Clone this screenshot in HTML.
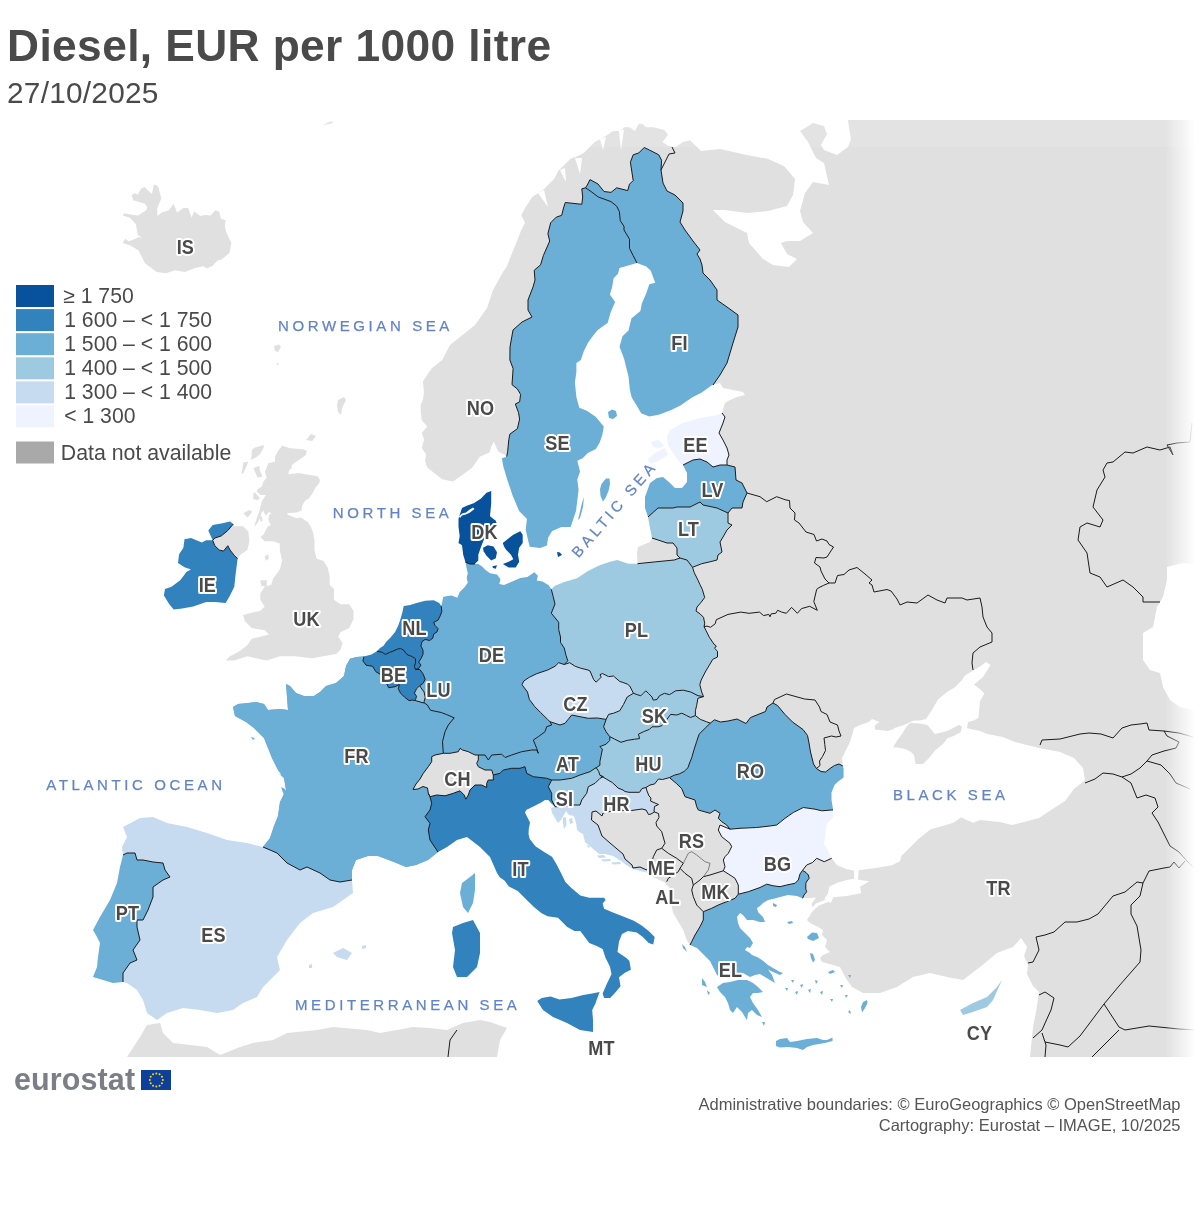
<!DOCTYPE html>
<html><head><meta charset="utf-8"><title>Diesel, EUR per 1000 litre</title>
<style>html,body{margin:0;padding:0;background:#fff;width:1200px;height:1210px;overflow:hidden}svg{display:block;will-change:transform}</style>
</head><body>
<svg width="1200" height="1210" viewBox="0 0 1200 1210">
<defs>
<linearGradient id="fr" x1="0" y1="0" x2="1" y2="0"><stop offset="0" stop-color="#fff" stop-opacity="0"/><stop offset="1" stop-color="#fff" stop-opacity="1"/></linearGradient>
<clipPath id="mc"><rect x="0" y="120" width="1200" height="937"/></clipPath>
</defs>
<rect width="1200" height="1210" fill="#fff"/>
<g clip-path="url(#mc)">
<polygon points="131.6,195.1 134.5,193.3 138,194.5 140.9,188.7 144.4,186.9 152,193.9 153.8,184.6 156.7,185.2 158.4,187.5 161.3,198.6 157.3,207.9 157.3,216.1 162.5,212 168.3,210.8 173.6,203.8 177.1,212.6 183.5,207.9 188.2,207.9 191.7,217.8 194,211.4 200.4,216.1 204.5,214.9 210.4,215.5 215.6,210.3 219.1,211.4 220.9,218.4 225.5,220.2 224.9,226 226.1,231.8 231.4,242.9 229.6,252.8 225.5,256.3 220.9,259.8 217.4,260.4 212.7,265.7 206.9,268.6 203.3,266.3 195.2,268 184.7,272.1 175.3,270.3 166,273.3 156.7,272.1 145,263.3 138.6,250.5 131,245.8 122.8,242.9 125.2,238.8 128.7,241.2 135.7,238.8 138.6,237.1 142.7,237.7 138,235.3 135.7,223.7 129.8,217.8 122.8,215.5 124,213.2 128.7,214.3 138,215.5 146.2,210.3 147.3,207.3 145,203.8 133.3,200.3" fill="#e0e0e0"/><polygon points="282.5,445.8 290,448.3 303.3,449.2 306.7,450.8 305.8,455 300,459.2 291.7,465 291.7,468.3 289.2,470 288.3,474.2 298.3,472.9 317.5,476.3 320,480 319.2,483.3 315,488.3 312.5,493.3 309.2,498.3 305,500.8 302.5,505 301.7,508.3 301.7,510.8 296.7,512.5 286.7,513.3 288.3,515 296.7,518.3 300.8,517.5 307.5,521.7 310.8,526.7 313.3,533.3 314.5,541.3 314.5,550 316.7,558.7 323.2,560.8 327.5,567.3 329.7,576 329.7,584.7 334,589 334,599.8 340.5,604.2 349.2,604.2 353.5,610.7 353.5,619.3 349.2,628 340.5,632.3 338.3,636.7 342.7,643.2 340.5,649.7 336.2,654 323.2,656.2 312.3,658.3 295,656.2 279.8,656.2 266.8,660.5 256,658.3 247.3,656.2 234.3,660.5 225.7,660.5 230,656.2 238.7,651.8 247.3,645.3 251.7,638.8 260.3,636.7 269,634.5 264.7,630.2 251.7,628 245.2,621.5 243,615 251.7,612.8 260.3,610.7 264.7,606.4 260.3,599.8 260.3,593.4 264.7,586.8 271.2,584.7 273.3,578.2 279.8,569.5 282,560.8 279.8,550 279.8,543.5 273.3,541.3 264.7,541.3 260.3,537 263.3,535 267.5,526.7 270.8,525 268.3,520 269.2,514.2 271.7,514.2 269.2,511.7 265.8,515.8 263.3,510.8 261.7,512.5 260,518.3 257.5,523.3 254.2,526.7 256.7,518.3 259.2,511.7 261.7,501.7 265.8,495 260.8,495 256.7,491.7 257.5,489.2 261.7,486.7 263.3,481.7 266.7,477.5 265,471.7 268.3,463.3 271.7,462.5 275,461.7 275,456.7 276.7,453.3 280,448.3" fill="#e0e0e0"/><polygon points="251.7,450 255,447.5 264.2,445 263.3,448.3 260,454.2 255.8,457.5 250.8,460 251.7,455.8" fill="#e0e0e0"/><polygon points="243.3,462.5 248.3,461.7 246.7,465.8 243.3,473.3 241.7,474.2 242.5,468.3" fill="#e0e0e0"/><polygon points="253.3,468.3 259.2,465.8 260,470.8 262.5,476.7 257.5,477.5 255,471.7" fill="#e0e0e0"/><polygon points="253.3,493.3 255,492.5 260,498.3 257.5,500 253.3,499.2" fill="#e0e0e0"/><polygon points="243.3,513.3 249.2,510 252.5,511.7 247.5,517.5" fill="#e0e0e0"/><polygon points="260,517 262,516 262.5,521 260.5,522" fill="#e0e0e0"/><polygon points="264.7,556.5 268,554.3 269,558.7 265.8,560.8" fill="#e0e0e0"/><polygon points="260.3,580.3 266.8,580.3 266.8,586.8 261.4,585.8" fill="#e0e0e0"/><polygon points="306,440 311,434 316,436 312,441" fill="#e0e0e0"/><polygon points="338,400 344,397 346,400 342,408 341,415 338,412 337,405" fill="#e0e0e0"/><polygon points="274,346 279,344.5 281,347 278,352 275,351" fill="#e0e0e0"/><polygon points="276.5,363 278.5,363 278,366" fill="#e0e0e0"/><polygon points="323,125 328,122.5 332,121 333,123 327,124.5" fill="#e0e0e0"/><polygon points="208.3,530.5 212.7,525.1 221.3,523.6 230,521.4 233.3,524 227.8,530.5 221.3,535.9 214.8,538.1 212.7,540.3 214.8,545.7 219.2,550 223.5,551.1 227.8,545.7 230,550 234.3,555.4 237.6,558.7 236.5,567.3 235.4,576 234.3,586.8 230,595.5 225.7,603.1 214.8,602 206.2,602 193.2,606.4 182.3,608.5 173.7,609.6 169.3,604.2 163.9,595.5 165,589 171.5,586.8 180.2,580.3 186.7,571.7 191,569.5 184.5,567.3 178,563 179.1,554.3 183.4,547.8 184.5,539.2 191,538.1 201.8,542.4 206.2,540.3 212.7,540.3" fill="#3182bd"/><polygon points="233.3,524 234.3,526.2 243,526.2 248.4,531.6 249.5,541.3 247.3,550 240.8,554.3 237.6,558.7 234.3,555.4 230,550 227.8,545.7 223.5,551.1 219.2,550 214.8,545.7 212.7,540.3 214.8,538.1 221.3,535.9 227.8,530.5 233.3,524" fill="#e0e0e0"/><polygon points="127,1057 140,1037 147,1025 160,1023 163,1033 173,1043 207,1047 220,1055 240,1047 253,1043 273,1040 287,1033 317,1030 333,1027 367,1030 380,1033 397,1030 413,1027 430,1028 447,1030 463,1023 480,1020 490,1022 507,1028 500,1040 497,1057" fill="#e0e0e0"/><polygon points="506.7,456.7 504.5,454.5 501.3,453.4 498.1,451.3 493.8,441.6 491.6,445.9 489.5,452.4 479.8,456.7 472.3,467.4 463.7,473.9 453,481.4 442.2,479.2 427.2,467.4 425,461 426.1,454.5 421.8,448.1 424,439.5 421.8,433 427.2,426.6 421.8,420.2 420.7,411.6 420.7,405.1 422.9,399.7 424,392.2 422.9,381.5 427.2,375 431.5,368.6 436.9,364.3 442.2,360 450,345 475,325 487,308 493,290 503,272 506.7,266.7 510.3,257.5 514,248.3 517.7,239.2 521.3,230 525,222.7 521.3,215.3 525,208 528.7,202.5 532.3,197 543.3,189.7 550.7,182.3 554.3,178.7 558,171.3 565.3,164 570.8,158.5 576.3,156.7 583.7,153 591,145.7 594.7,142 602,138.3 607.5,134.7 613,131 620.3,131 624,127.3 629.5,127.3 635,131 638.7,123.7 642.3,123.7 646,127.3 653.3,127.3 664.3,130.1 668,134.7 662.5,142 668,145.7 675.3,147.5 682.7,142 690,140.2 701,151 720,149 747,155 768,159 784,166 795,179 793,195 787,206 768,211 747,213 725,210 713,210 725,222 747,233 749,243 763,259 773,265 789,267 797,259 787,254 781,243 787,241 800,241 813,233 803,222 800,211 805,193 813,182 829,185 824,163 816,158 808,142 800,131 813,123 824,126 827,134 821,145 824,150 837,155 848,147 851,139 848,121 848,120 1200,120 1200,1057 1030,1057 1033,1027 1036,1012 1039,992 1033,986 1027,974 1028,965 1024,956 1027,947 1021,938 1013,947 997,953 980,967 963,980 947,977 930,973 913,977 897,987 880,993 863,993 852,987 847,980 843,973 840,967 833,965 822,962 820,958 823,955 830,952 825,947 827,940 822,935 823,930 818,927 810,923 807,920 810,915 813,908 810,900 802.5,898.3 804,895 806.7,891.7 805.8,889.2 805.8,883.3 807,881 809.2,878.3 808.3,875 806,872.5 802.5,870.4 806.7,865 812.5,862.5 816.7,858.3 824.2,861.7 831.7,858.3 842.8,766 839,764 834.5,765.5 830,768.5 825.5,772 821,771.5 816.5,768.5 813.5,764 810.5,752 809,743 807.5,735.5 803,729.5 792.5,722 785,714.5 777.5,705.5 773,703 767,707 765.5,711.5 758,714.5 750.5,717.5 746,723.5 737,719 728,721 720.5,722 714.5,719.8 710.3,723.1 706.6,721.8 700.4,719.4 695.4,715.6 695.4,710.7 696.6,705.7 697.9,698.3 703.5,696.6 701.7,692 699.8,684.7 701.2,680 705.8,671 709.3,665.2 712.8,659.3 717.5,657 717.5,651.2 714.6,648.3 716.3,646 714,644.2 709.3,637.2 705.8,630.2 704.1,626.7 704.7,623.2 703.5,617.3 700,613.8 696,611 697,607 701.2,602.2 704.7,597.5 702.3,589.3 700,584.7 698,580.2 694.3,572.8 692.5,567.3 701.7,563.7 710,561.8 717,560 718,555 722,552 720,542 723,537 727,530 732,525 728,523 728,513 732,508 742,508 743,502 747,493 742,483 736,480 735,467 727,465 727,460 729,455 727,448 723,440 719,433 723,423 725,417 722,413 723,410 725,403 730,400 737,397 745,395 743,392 733,390 723,388 720,383 713,385 720,375 727,363 733,343 738,327 738,315 727,307 717,300 717,290 710,280 703,273 702,265 700,259 697,254 700,250 693,241 685,230 680,222 683,211 683,203 675,195 667,191 663,183 661,170 661.6,160.3 658.8,154.8 649.7,150.2 644.2,147.5 638.7,153 633.2,154.8 630.4,162.2 633.2,180.5 629.5,184.2 627.7,190.6 616.7,187.8 611,192.4 604,191.5 598,184 590,179.6 587.3,185 585.5,187.8 581.8,188.8 582.7,197 581.8,204.3 565.3,202.5 563.5,208 561.7,215.3 556.2,217.2 550.7,222.7 547.9,233.7 549.7,241 543.3,255.7 540.6,264.8 534.2,270.3 535,280 533,287 528,300 528,310 532,317 522,322 513,330 510,347 509.9,360 513.1,368.6 512,384.7 517.4,389 520.6,394.4 519.6,401.9 515.3,404 518.5,412.6 519.6,419.1 517.4,428.7 509.9,434.1 508.8,439.5 507.7,451.3 506.7,456.7" fill="#e0e0e0"/><polygon points="619,131 624,129.5 621,150" fill="#ffffff"/><polygon points="575,158 582,158 580,174" fill="#ffffff"/><polygon points="538,193 544,190 548,207" fill="#ffffff"/><polygon points="600,139 606,137 603,150" fill="#ffffff"/><polygon points="560,170 565,168 566,182" fill="#ffffff"/><polygon points="637.5,563.7 637,553 638,547 650,542 652,538 658,540 667,543 673,543 677,548 677,555 680,558 674.2,560 655.8,561.8 637.5,563.7" fill="#e0e0e0"/><polygon points="646,787.5 650,785 654.5,784 658.5,779 662.5,779.5 669.4,777.6 676.8,783.8 681.8,788.8 685,796.7 695,800 696.7,806.7 698.3,810 710,813.3 715,810 720,813.3 718.3,818.3 721.7,821.7 726.7,825 730,829.2 720,825 718.3,830 721.7,836.7 730,843.3 731.7,846.7 728.3,853.3 725,856.7 723.3,860 725,866.7 723.3,870.8 730,875 735,878.3 738.3,885 738.3,894.2 735,898.3 726.7,901.7 718.3,905 711.7,908.3 703.3,911.7 703.3,920 700,926.7 695,935 691.7,941.7 690,945 686.7,940 683.3,930 678.3,921.7 673.3,913.3 671.7,906.7 671.7,896.7 670,889 668,886 664,882 656,878.5 649,875 645,871.5 646.7,870 640,867 633,868 632,865 625,859 623,854 610,843 602,836 598,825 591.5,820 592,812 596,811 602,816 603,813 612,811 618,810 625,810.5 631.5,810.5 635,810 642,809 646,810 648.5,814.5 651,814 654.5,812 654,811 654.5,806.5 658.5,804.5 655,803 650.5,801 651,798 649,796 647,791 646,787.5" fill="#e0e0e0"/><polygon points="443.3,753.3 450,753.3 458.3,751.7 460,748.3 462.5,750 468.3,751.7 475,755 478.3,755 478.3,760 476.7,763.3 478.3,766.7 485,770 491.7,770 493.3,775 493.3,780 488.3,780 486.7,783.3 486.7,787.5 481.7,785 475,785 470,790 468.3,795 465.8,799.2 464.2,795 460,790.8 453.3,793.3 445,795.8 436.7,795 430,796.7 428.3,793.3 427.5,788 423,786.5 418,789 413,789.5 416,784 420,779 423.3,773.3 428.3,766.7 431.7,761.7 431.7,756.7 435,755 443.3,753.3" fill="#e0e0e0"/><polygon points="842.8,766 842,758 845,752 849.5,743 852.5,734 854,728 860,725 869,722 872,719 879.5,722 875,725 875,729.5 887,731 893,729.5 894.5,728 902,725.7 906,724 914,720.5 920,720.5 926,719 929,714.5 932,710 938,699.5 947,692 954.5,687.5 962,680 965,675.5 972.5,671 980,666.5 986,662 990.5,665 983,677 974,684.5 980,689 984.5,693.5 980,701 978.5,717.5 974,720.5 968,722 967,728 972.5,729.5 980,731 987.5,734 995,735.5 1002.5,737 1015,742 1039,748 1060,752 1074,758 1083,768 1085,780 1074,789 1065,801 1051,810 1039,818 1024,822 1012,825 1000,822 980,820 973.3,822.7 966.7,820 961.3,817.3 953.3,822.7 940,826.7 930.7,829.3 918.7,838.7 910.7,846.7 901.3,856 900,861.3 892,865.3 876,868 860,870 854.7,870.7 846.7,869.3 837.3,865.3 832,858.7 828,850.7 824,844 825.3,834.7 826.7,824 833.3,817.3 833,810 831.5,800 831.5,792.5 834.5,785 837.5,782 843.5,777.5 843.5,768.5" fill="#ffffff"/><polygon points="893,747.5 897.5,740 902,734 906.5,726.5 910,723 920,723.5 927.5,725 935,734 947,731 959,725 962,726.5 960.5,732.5 954.5,735.5 947,738.5 944,743 935,750.5 929,758 923,764 915.5,764 914,755 911,752 905,749 897.5,747.5" fill="#e0e0e0"/><polygon points="1167,567 1183,563 1200,565 1200,712 1193,710 1180,707 1170,700 1163,687 1160,673 1150,670 1143,660 1143,633 1153,627 1157,607 1163,597 1167,580" fill="#ffffff"/><polygon points="854,870 858.7,870 858,880 854,880" fill="#ffffff"/><polygon points="837.3,882.7 846.7,880 854.7,878.7 860,880 869.3,881.3 860,886.7 861.3,893.3 846.7,896 833.3,897.3 830.8,903.3 827.5,900 824.2,899.2 828,893.3 829.3,886.7" fill="#ffffff"/><polygon points="827.5,899 829.5,901.5 818,906 811,913 809,917 807.5,915.5 809,911 816,903.5" fill="#ffffff"/><polygon points="802.5,898.3 808,898.2 815.8,897.5 812.5,902.5 808.3,908.3 806,912 803,910" fill="#ffffff"/><polygon points="585.5,187.8 591,191.5 598.3,197 611,201.6 616.7,206.2 619.4,211.7 620.3,220.8 624,226.3 624,230 629.5,239.2 629.5,248.3 633.2,255.7 637,263 630,264.9 619.5,267.9 618,273.8 613.6,278.3 612.1,287.2 609.9,294.6 615.1,302.1 610.6,312.5 607.6,322.9 603.2,325.9 597.2,330.4 592.7,336.3 588.3,342.3 583.8,351.2 580.8,360.1 576.4,363.1 576.4,372 574.9,382.4 576.4,397.3 579.3,407.7 586.8,410.7 595.7,416.7 601.7,424.1 603.8,426.5 602.4,434.4 599.8,442.3 595.8,449 587.9,452.9 582.6,458.2 577.3,460.8 580,471.4 577.3,479.4 578.6,490 577.3,500.5 576,511.1 573.3,519 570.7,527 561.4,527 552.2,531 548.2,537.6 546.9,545.5 540.3,548.1 529.7,546.8 528.4,541.5 525.7,529.6 527,519 519.1,511.1 512.5,495.2 507.2,479.4 503.2,466.1 501.9,458.2 506.7,456.7 507.7,451.3 508.8,439.5 509.9,434.1 517.4,428.7 519.6,419.1 518.5,412.6 515.3,404 519.6,401.9 520.6,394.4 517.4,389 512,384.7 513.1,368.6 509.9,360 510,347 513,330 522,322 532,317 528,310 528,300 533,287 535,280 534.2,270.3 540.6,264.8 543.3,255.7 549.7,241 547.9,233.7 550.7,222.7 556.2,217.2 561.7,215.3 563.5,208 565.3,202.5 581.8,204.3 582.7,197 581.8,188.8 585.5,187.8" fill="#6baed6"/><polygon points="601.5,484 606,478.5 609.5,478.5 610,484 608.5,491 605.5,498 603,501.5 600.5,496 600,489" fill="#6baed6"/><polygon points="578,520 582,503 584,497 583,507 580,518" fill="#6baed6"/><polygon points="585.5,187.8 587.3,185 590,179.6 598,184 604,191.5 611,192.4 616.7,187.8 627.7,190.6 629.5,184.2 633.2,180.5 630.4,162.2 633.2,154.8 638.7,153 644.2,147.5 649.7,150.2 658.8,154.8 661.6,160.3 661,170 663,183 667,191 675,195 683,203 683,211 680,222 685,230 693,241 700,250 697,254 700,259 702,265 703,273 710,280 717,290 717,300 727,307 738,315 738,327 733,343 727,363 720,375 713,385 712.5,384.7 701.4,392.7 692,397.4 680.8,405.3 671.3,410 658.7,414.8 649.2,416.4 641.2,413.2 636.5,405.3 631.7,397.4 629.9,390 628.5,376.5 624,358.6 619.5,346.7 622.5,336.3 628.5,330.4 631.4,318.5 640.4,311 641.8,303.6 646.3,293.2 649.3,284.2 655.2,282.7 650.8,270.8 646.3,266.4 637,263 633.2,255.7 629.5,248.3 629.5,239.2 624,230 624,226.3 620.3,220.8 619.4,211.7 616.7,206.2 611,201.6 598.3,197 591,191.5 585.5,187.8" fill="#6baed6"/><polygon points="683,465 678,460 673,453 668,445 667,437 670,430 683,423 700,418 717,415 722,413 725,417 723,423 719,433 723,440 727,448 729,455 727,460 727,465 720,465 713,467 707,462 700,459 693,460 683,465" fill="#eff3ff"/><polygon points="651,442 658,440 664,445 660,448 653,447" fill="#eff3ff"/><polygon points="647.6,459.2 655.5,452.8 665,448 668.2,454.4 658.7,460.7 650.7,464" fill="#eff3ff"/><polygon points="608,412 612,409.5 616,411 617,416 613,419 609,418" fill="#6baed6"/><polygon points="648,517 645,508 645,497 650,483 657,478 663,477 670,483 675,488 682,488 687,482 687,473 683,465 693,460 700,459 707,462 713,467 720,465 727,465 735,467 736,480 742,483 747,493 743,502 742,508 732,508 728,513 717,508 703,505 700,502 690,507 677,507 673,508 658,508 648,517" fill="#6baed6"/><polygon points="648,517 658,508 673,508 677,507 690,507 700,502 703,505 717,508 728,513 728,523 732,525 727,530 723,537 720,542 722,552 718,555 717,560 710,561.8 701.7,563.7 692.5,567.3 687,560 680,558 677,555 677,548 673,543 667,543 658,540 652,538 650,528 648,517" fill="#9ecae1"/><polygon points="551.3,589.3 555,585.7 564.2,582 577,578.3 588,571 599,565.5 610,561.8 617.3,560 628.3,563.7 637.5,563.7 655.8,561.8 674.2,560 680,558 687,560 692.5,567.3 694.3,572.8 698,580.2 700,584.7 702.3,589.3 704.7,597.5 701.2,602.2 697,607 696,611 700,613.8 703.5,617.3 704.7,623.2 704.1,626.7 705.8,630.2 709.3,637.2 714,644.2 716.3,646 714.6,648.3 717.5,651.2 717.5,657 712.8,659.3 709.3,665.2 705.8,671 701.2,680 699.8,684.7 701.7,692 703.5,696.6 698,695.7 690.7,692 683.3,690.2 675.6,690.8 671.8,693.3 669.4,694.6 664.4,693.3 659.4,695.8 657,699.5 653.2,700.1 652,697 648.3,693.3 645.8,690.8 643.3,693.3 640.8,695.8 637.1,694.6 633.4,693.3 632.2,690.8 629.7,685.9 627.2,684 622.2,682.2 619.8,681.5 614.8,677.2 613.6,676 608.6,676.6 602.4,673.5 600,674.7 601.2,677.2 596.2,682.2 593.7,679.7 590,671 588,670 580.7,668.2 575.2,666.3 569.7,662.7 564.2,664.5 567.8,660.8 566,655.3 564.2,648 560.5,642.5 560.5,637 558.7,629.7 558.7,622.3 551.3,613.2 555,604 553.2,596.7 551.3,589.3" fill="#9ecae1"/><polygon points="441.3,606.1 443.3,596.7 451.5,595.5 457.3,597.8 459.7,592 464.3,587.4 467.8,582.7 466.7,578 467.8,573.3 466.7,568.7 465.5,562.3 470,564 474.8,564 478.3,564 481.8,566.3 485.3,569.8 490,573.3 497,574.5 500.5,579.2 499.3,583.9 504,585 512.2,581.5 520.3,578 527.4,576.9 534.4,572.2 537.9,575.7 536.7,580.4 542.5,581.5 548.4,585 551.3,589.3 553.2,596.7 555,604 551.3,613.2 558.7,622.3 558.7,629.7 560.5,637 560.5,642.5 564.2,648 566,655.3 567.8,660.8 564.2,664.5 558.7,662.7 555,666.3 547.7,670 536.7,673.7 529.3,677.3 523.8,681 522,684.7 527.5,692 529.3,699.3 534.8,706.7 540.3,712.2 547.7,719.5 550,721.7 551.7,725 546.7,726.7 545,731.7 538.3,736.7 533.3,740 536.7,748.3 538.3,753.3 536.7,750 531.7,750 521.7,751.7 511.7,755 505,757.5 501.7,754.2 491.7,755 488.3,760 485,755 478.3,755 475,755 468.3,751.7 462.5,750 460,748.3 458.3,751.7 450,753.3 443.3,753.3 442.5,741.7 445,731.7 448.3,725 454.2,717.8 446.7,714.6 441.3,712.5 435.9,711.4 430.6,710.3 427.3,705 424.1,702.8 424.1,701.7 425.2,697.4 424.1,692 420.9,687.7 419.8,685.6 423,683.4 425.2,679.2 423,673.8 419.8,669.5 415.5,669.5 418.7,668.4 420.9,665.2 418.7,662 420.9,658.7 423,654.4 423,650.2 420.9,645.9 422,641.6 425.2,639.4 429.5,640.5 432.7,638.3 433.8,634 437,631.9 438.1,628.7 434.9,625.4 433.8,622.2 438.1,620.1 440.2,615.8 441.8,611.5 441.3,606.1" fill="#6baed6"/><polygon points="458.5,518.5 462,508 466.7,505.7 473.7,503.3 480.7,498.7 486.5,492.8 491.2,491.1 491.2,503.3 490,516.2 495.8,520.8 497,524.3 492.3,526.7 490,531.3 485.3,536 483,541.8 480.7,547.7 478.3,554.7 478.3,560.5 474.8,564 470,564 465.5,562.3 463.2,554.7 462,545.3 458.5,543 459.7,536 458.5,526.7" fill="#08519c"/><polygon points="459,516.5 462,513.5 466,512.5 469,510 473,507.5 474.5,509 470,512.5 466,514.5 462,515.5 460,518" fill="#ffffff"/><polygon points="502.8,543 508.7,538.3 513.3,534.8 520.3,531.3 522.7,534.8 522.7,543 519.2,547.7 518,554.7 519.2,561.7 515.7,567.5 508.7,567.5 502.8,564 508.7,561.7 513.3,559.3 511,554.7 506.3,550 504,546.5" fill="#08519c"/><polygon points="483,547.7 487.7,545.3 493.5,546.5 497,552.3 495.8,558.2 491.2,560.5 486.5,555.8 483.6,551.2" fill="#08519c"/><polygon points="492.3,566.3 497,565.2 495.8,568.7 493,568" fill="#08519c"/><polygon points="557,552 560,552.5 562,555 558,557" fill="#08519c"/><polygon points="376.9,651.2 380,648 383.3,645.9 386.5,641.6 390.8,637.3 395.1,631.9 398.3,625.4 400.5,619 402.6,611.5 403.7,606.1 410.2,605 416.6,602.9 425.2,600.7 433.8,600.2 439.2,602.9 441.3,606.1 441.8,611.5 440.2,615.8 438.1,620.1 433.8,622.2 434.9,625.4 438.1,628.7 437,631.9 433.8,634 432.7,638.3 429.5,640.5 425.2,639.4 422,641.6 420.9,645.9 423,650.2 423,654.4 420.9,658.7 418.7,662 420.9,665.2 418.7,668.4 415.5,669.5 414.4,666.3 415.5,663 415.5,658.7 412.3,656.6 408,655 405.9,653.4 403.7,650.2 400.5,648.5 397.3,649.1 393,651.2 389.7,652.3 385.4,654.4 382.2,652.3 376.9,651.2" fill="#3182bd"/><polygon points="364,656.6 371.5,654.4 376.9,651.2 382.2,652.3 385.4,654.4 389.7,652.3 393,651.2 397.3,649.1 400.5,648.5 403.7,650.2 405.9,653.4 408,655 412.3,656.6 415.5,658.7 415.5,663 414.4,666.3 415.5,669.5 419.8,669.5 423,673.8 425.2,679.2 423,683.4 419.8,685.6 416.6,688.8 414.4,693.1 416.6,696.3 415.5,699.6 415.5,700.6 412.3,700.1 409.1,700.6 404.8,697.4 400.5,693.1 398.3,688.8 399.4,684.5 395.1,686.7 388.7,687.7 386.5,683.4 381.1,674.9 375.8,671.6 372.6,666.3 366.1,665.2 362.9,660.9 364,656.6" fill="#3182bd"/><polygon points="419.8,685.6 420.9,687.7 424.1,692 425.2,697.4 424.1,701.7 424.1,702.8 423,702.8 415.5,700.6 415.5,699.6 416.6,696.3 414.4,693.1 416.6,688.8 419.8,685.6" fill="#9ecae1"/><polygon points="364,656.6 362.9,656.6 356.4,657.1 350,658.7 364,656.6 362.9,660.9 366.1,665.2 372.6,666.3 375.8,671.6 381.1,674.9 386.5,683.4 388.7,687.7 395.1,686.7 399.4,684.5 398.3,688.8 400.5,693.1 404.8,697.4 409.1,700.6 412.3,700.1 415.5,700.6 424.1,702.8 423,702.8 415.5,700.6 424.1,702.8 427.3,705 430.6,710.3 435.9,711.4 441.3,712.5 446.7,714.6 454.2,717.8 448.3,725 445,731.7 442.5,741.7 443.3,753.3 435,755 431.7,756.7 431.7,761.7 428.3,766.7 423.3,773.3 420,779 416,784 413,789.5 418,789 423,786.5 427.5,788 428.3,793.3 430,796.7 431.7,803.3 430,810 425,816.7 430,823.3 428.3,830 430,840 438,852 428,860 416,865 406,867 394,862 378,856 368,856 356,860 352,870 352,880 340,882 330,880 320,873 307,867 300,870 287,863 277,853 263,847 270,838 274,826 278,816 280,802 286,790 284,778 278,770 272,758 268,748 264,738 254,728 246,722 235,716 233,707 238,704 248,703 256,702 264,704 268,710 280,709 288,710 287,697 286,684 290,686 296,693 304,696 314,696 320,692 326,686 336,683 344,676 346,666 350,658.7" fill="#6baed6"/><polygon points="281,787 285,789 289,797 285,798" fill="#6baed6"/><polygon points="279,774 285,776 284,778" fill="#6baed6"/><polygon points="251,737 255,738 253,740" fill="#6baed6"/><polygon points="364,656.6 362.9,656.6 356.4,657.1 350,658.7 364,656.6 362.9,660.9 366.1,665.2 372.6,666.3 375.8,671.6 381.1,674.9 386.5,683.4 388.7,687.7 395.1,686.7 399.4,684.5 398.3,688.8 400.5,693.1 404.8,697.4 409.1,700.6 412.3,700.1 415.5,700.6 424.1,702.8 423,702.8 415.5,700.6 424.1,702.8 427.3,705 430.6,710.3 435.9,711.4 441.3,712.5 446.7,714.6 454.2,717.8 448.3,725 445,731.7 442.5,741.7 443.3,753.3 435,755 431.7,756.7 431.7,761.7 428.3,766.7 423.3,773.3 420,779 416,784 413,789.5 418,789 423,786.5 427.5,788 428.3,793.3 430,796.7 431.7,803.3 430,810 425,816.7 430,823.3 428.3,830 430,840 438,852 428,860 416,865 406,867 394,862 378,856 368,856 356,860 352,870 352,880 340,882 330,880 320,873 307,867 300,870 287,863 277,853 263,847 270,838 274,826 278,816 280,802 286,790 284,778 278,770 272,758 268,748 264,738 254,728 246,722 235,716 233,707 238,704 248,703 256,702 264,704 268,710 280,709 288,710 287,697 286,684 290,686 296,693 304,696 314,696 320,692 326,686 336,683 344,676 346,666 350,658.7" fill="#6baed6"/><polygon points="550,721.7 560,725 565,723.3 571.7,715 580,716.7 588.3,718.3 597.4,718 606.1,719.4 603.6,726.8 606.1,731.8 609.8,736.7 609.8,740.4 606.1,744.2 599.9,746.6 602.4,749.1 601.2,755.3 599.9,761.5 599.9,765.3 596.2,767.7 595,768.3 590,771.7 580,775 571.7,778.3 560,780 551.7,780 546.7,778.3 533.3,776.7 526.7,773.3 525,766.7 520,768.3 511.7,768.3 503.3,770 500,773.3 493.3,775 493.3,780 493.3,775 491.7,770 485,770 478.3,766.7 476.7,763.3 478.3,760 478.3,755 485,755 488.3,760 491.7,755 501.7,754.2 505,757.5 511.7,755 521.7,751.7 531.7,750 536.7,750 538.3,753.3 536.7,748.3 533.3,740 538.3,736.7 545,731.7 546.7,726.7 551.7,725 550,721.7" fill="#6baed6"/><polygon points="564.2,664.5 569.7,662.7 575.2,666.3 580.7,668.2 588,670 590,671 593.7,679.7 596.2,682.2 601.2,677.2 600,674.7 602.4,673.5 608.6,676.6 613.6,676 614.8,677.2 619.8,681.5 622.2,682.2 627.2,684 629.7,685.9 632.2,690.8 633.4,693.3 627.2,697 623.5,704.5 619.8,710.7 613.6,713.2 608.6,714.4 606.1,719.4 597.4,718 588.3,718.3 580,716.7 571.7,715 565,723.3 560,725 550,721.7 547.7,719.5 540.3,712.2 534.8,706.7 529.3,699.3 527.5,692 522,684.7 523.8,681 529.3,677.3 536.7,673.7 547.7,670 555,666.3 558.7,662.7 564.2,664.5" fill="#c6dbef"/><polygon points="633.4,693.3 637.1,694.6 640.8,695.8 643.3,693.3 645.8,690.8 648.3,693.3 652,697 653.2,700.1 657,699.5 659.4,695.8 664.4,693.3 669.4,694.6 671.8,693.3 675.6,690.8 683.3,690.2 690.7,692 698,695.7 703.5,696.6 697.9,698.3 696.6,705.7 695.4,710.7 695.4,715.6 690.4,717.5 686.7,715.6 681.8,713.2 676.8,715 670.6,714.4 666.9,719.4 661.9,725.6 658.2,726.8 652,726.8 649.5,729.3 643.3,731.8 638.4,734.2 639.6,738.6 634.6,739.2 627.2,740.4 621,742.3 614.8,739.2 609.8,736.7 606.1,731.8 603.6,726.8 606.1,719.4 608.6,714.4 613.6,713.2 619.8,710.7 623.5,704.5 627.2,697 633.4,693.3" fill="#9ecae1"/><polygon points="609.8,736.7 614.8,739.2 621,742.3 627.2,740.4 634.6,739.2 639.6,738.6 638.4,734.2 643.3,731.8 649.5,729.3 652,726.8 658.2,726.8 661.9,725.6 666.9,719.4 670.6,714.4 676.8,715 681.8,713.2 686.7,715.6 690.4,717.5 695.4,715.6 700.4,719.4 706.6,721.8 710.3,723.1 705.3,728 699.1,734.2 696.6,741.7 694.2,749.1 691.7,757.8 689.2,764 688,767.7 684.2,771.4 679.3,773.9 674.3,775.2 669.4,777.6 662.5,779.5 658.5,779 654.5,784 650,785 646,787.5 642,788.5 639.5,792.3 629,792.3 625,791.5 623,790 618,788 615,785 612.3,782.6 606.1,778.9 599.9,775.2 598.7,771.4 596.2,767.7 599.9,765.3 599.9,761.5 601.2,755.3 602.4,749.1 599.9,746.6 606.1,744.2 609.8,740.4 609.8,736.7" fill="#9ecae1"/><polygon points="551.7,780 560,780 571.7,778.3 580,775 590,771.7 595,768.3 596.2,767.7 598.7,771.4 599.9,775.2 603.3,776.7 600,778.3 595,783.3 588.3,786.7 586.7,793.3 581.7,800 580,805 571.7,805 563.3,806.7 555,806.7 551.7,800 551.7,793.3 548.3,786.7 551.7,780" fill="#9ecae1"/><polygon points="599.9,775.2 606.1,778.9 612.3,782.6 615,785 618,788 623,790 625,791.5 629,792.3 639.5,792.3 642,788.5 646,787.5 647,791 649,796 651,798 650.5,801 655,803 658.5,804.5 654.5,806.5 654,811 654.5,812 651,814 648.5,814.5 646,810 642,809 635,810 631.5,810.5 625,810.5 618,810 612,811 603,813 602,816 596,811 592,812 591.5,820 598,825 602,836 610,843 623,854 625,859 632,865 633,868 640,867 646.7,870 645,872 640,871 633,869 627,865.5 621,861 613,856 605,854 599,854 591,847 585,842 583,834 577,830 576,823 574,816 569,815 566,811 561,820 558,823 552,813 551,808 555,806.7 563.3,806.7 571.7,805 580,805 581.7,800 586.7,793.3 588.3,786.7 595,783.3 600,778.3 603.3,776.7 599.9,775.2" fill="#c6dbef"/><polygon points="563,818 566,817 566.5,825 564,829 563,824" fill="#c6dbef"/><polygon points="569,819 572,818 573,823 570,824" fill="#c6dbef"/><polygon points="577,827 580,828 582,833 579,832" fill="#c6dbef"/><polygon points="597,855.5 604,855 606,857.5 599,858" fill="#c6dbef"/><polygon points="601,859.5 610,859 611,861 603,861.5" fill="#c6dbef"/><polygon points="611,862.5 620,862 621,864 613,864.5" fill="#c6dbef"/><polygon points="586,845 590,846 589,848" fill="#c6dbef"/><polygon points="710.3,723.1 714.5,719.8 720.5,722 728,721 737,719 746,723.5 750.5,717.5 758,714.5 765.5,711.5 767,707 773,703 777.5,705.5 785,714.5 792.5,722 803,729.5 807.5,735.5 809,743 810.5,752 813.5,764 816.5,768.5 821,771.5 825.5,772 830,768.5 834.5,765.5 839,764 842.8,766 843.5,768.5 843.5,777.5 837.5,782 834.5,785 831.5,792.5 831.5,800 833,809 833,810 831.7,810 821.7,810.8 815,809.2 803.3,807.5 793.3,812.5 785,818.3 776.7,825 770,826 756.7,827.5 740,828.3 730,829.2 726.7,825 721.7,821.7 718.3,818.3 720,813.3 715,810 710,813.3 698.3,810 696.7,806.7 695,800 685,796.7 681.8,788.8 676.8,783.8 669.4,777.6 674.3,775.2 679.3,773.9 684.2,771.4 688,767.7 689.2,764 691.7,757.8 694.2,749.1 696.6,741.7 699.1,734.2 705.3,728 710.3,723.1" fill="#6baed6"/><polygon points="730,829.2 740,828.3 756.7,827.5 770,826 776.7,825 785,818.3 793.3,812.5 803.3,807.5 815,809.2 821.7,810.8 831.7,810 833,810 833.3,817.3 826.7,824 825.3,834.7 824,844 828,850.7 831.7,858.3 824.2,861.7 816.7,858.3 812.5,862.5 806.7,865 802.5,870.4 800,874 798.3,880 795,883.3 786.7,885 780,886.7 773.3,885.8 766.7,884.2 760,887.5 748.3,891.7 738.3,894.2 738.3,885 735,878.3 730,875 723.3,870.8 725,866.7 723.3,860 725,856.7 728.3,853.3 731.7,846.7 730,843.3 721.7,836.7 718.3,830 720,825 730,829.2" fill="#eff3ff"/><polygon points="738.3,894.2 748.3,891.7 760,887.5 766.7,884.2 773.3,885.8 780,886.7 786.7,885 795,883.3 798.3,880 800,874 802.5,870.4 806,872.5 808.3,875 809.2,878.3 807,881 805.8,883.3 805.8,889.2 806.7,891.7 804,895 802.5,898.3 797,896 788,895 780,897 773,899 768,900 763,903 760,906 757,908 758,912 763,917 765,922 760,922 753,920 747,920 743,915 740,913 737,917 738,923 740,928 745,933 750,938 753,943 750,948 747,947 745,950 750,953 755,958 762,963 767,968 772,975 775,983 770,980 765,977 760,974 755,975 750,977 743,973 737,973 730,977 720,977 717,975 713,967 710,961 707,958 702,953 697,948 690,945 691.7,941.7 695,935 700,926.7 703.3,920 703.3,911.7 711.7,908.3 718.3,905 726.7,901.7 735,898.3 738.3,894.2" fill="#6baed6"/><polygon points="717,987 723,983 730,982 738,980 747,980 753,983 758,987 763,992 758,993 753,993 750,997 753,1003 758,1010 762,1017 757,1015 752,1010 748,1013 747,1020 745,1017 742,1012 737,1007 733,1013 730,1010 728,1003 725,997 720,992" fill="#6baed6"/><polygon points="752,955 757,957 762,960 768,965 773,968 780,972 783,973 780,975 773,972 767,969 758,964 753,960 750,957" fill="#6baed6"/><polygon points="807,937 812,932.5 817,933 819,938 813,941 808,939" fill="#6baed6"/><polygon points="810,953 813,954 815,960 813,962.5 811,958" fill="#6baed6"/><polygon points="828,972 833,970 835,972 830,974" fill="#6baed6"/><polygon points="861,1007 863,1002 867,1000 867.5,1003 865,1008 862,1012.5" fill="#6baed6"/><polygon points="773,903 777,905 776,907 773,906" fill="#6baed6"/><polygon points="787,922 792,921 793,923 789,924" fill="#6baed6"/><polygon points="682,944 685,947 687,952 683,948" fill="#6baed6"/><polygon points="702,978 705,982 707,987 702,985" fill="#6baed6"/><polygon points="707,990 710,993 708,995" fill="#6baed6"/><polygon points="791,980 794,980 793,983" fill="#6baed6"/><polygon points="800,985 803,984 802,988" fill="#6baed6"/><polygon points="808,990 811,989 810,993" fill="#6baed6"/><polygon points="795,992 798,991 797,995" fill="#6baed6"/><polygon points="815,980 818,981 816,984" fill="#6baed6"/><polygon points="820,992 823,991 822,995" fill="#6baed6"/><polygon points="785,988 788,988 787,991" fill="#6baed6"/><polygon points="840,985 843,985 842,988" fill="#6baed6"/><polygon points="845,995 848,995 846,998" fill="#6baed6"/><polygon points="830,999 833,999 832,1002" fill="#6baed6"/><polygon points="848,975 851,975 850,978" fill="#6baed6"/><polygon points="762,1022 765,1022 764,1026" fill="#6baed6"/><polygon points="848,1012 850,1010 851,1014" fill="#6baed6"/><polygon points="776,1041 780,1039 787,1038 790,1042 797,1041 807,1039 817,1038 823,1040 827,1040 832.5,1037.5 832.5,1041 825,1043 813,1045 807,1047 803,1050 797,1048 788,1047 780,1047.5 776,1046" fill="#6baed6"/><polygon points="428.3,793.3 430,796.7 436.7,795 445,795.8 453.3,793.3 460,790.8 464.2,795 465.8,799.2 468.3,795 470,790 475,785 481.7,785 486.7,787.5 486.7,783.3 488.3,780 493.3,780 493.3,775 500,773.3 503.3,770 511.7,768.3 520,768.3 525,766.7 526.7,773.3 533.3,776.7 546.7,778.3 551.7,780 548.3,786.7 551.7,793.3 551.7,800 555,806.7 551.2,803.3 548.3,800 545,800 541.2,802.5 533.8,806.2 526.2,810 525,812.5 527.5,817.5 530,822.5 528.8,828.8 528.5,834 529.7,838.9 535.7,846.4 544.6,852.3 552,856.8 556.5,864.2 561,873.1 565.4,882 571.4,888 580.3,895.4 589.2,897.7 604.1,897.7 605.6,899.9 602.6,903.6 604.1,908.8 613,912.5 626.4,917.7 633.8,920.7 641.3,925.2 648.7,931.1 654.7,937.1 653.2,944.5 648.7,943 642.8,937.1 636.8,932.6 627.9,931.1 622,934.1 619,941.5 617.5,952 626.4,957.9 629.4,960.9 630.9,969.8 624.9,972.8 619,977.2 620.5,986.2 614.5,993.6 610,998.1 604.1,998.1 602.6,993.6 607.1,983.2 611.5,974.3 610,966.8 605.6,957.9 602.6,949 596.7,946 589.2,943 584.8,937.1 580.3,931.1 574.4,931.1 566.9,926.7 562.5,922.2 558,917.7 547.6,916.3 541.6,913.3 534.2,907.3 528.3,901.4 522.3,895.4 517.8,891 508.9,886.5 504.5,880.6 500,877.6 497,873 490,857 480,847 467,837 457,840 447,847 438,852 430,840 428.3,830 430,823.3 425,816.7 430,810 431.7,803.3 430,796.7 428.3,793.3" fill="#3182bd"/><polygon points="537.2,1001 541.6,998.1 550.6,996.6 559.5,999.5 571.4,998.1 583.3,995.1 592.2,993.6 599.6,992.1 595.2,1004 592.2,1010 593,1020 593,1032 580,1030 567,1023 553,1017 543,1010" fill="#3182bd"/><polygon points="453,927 463,923 473,920 480,933 480,953 477,967 467,977 457,977 453,967 455,950 452,933" fill="#3182bd"/><polygon points="470,877 475,873 475,890 473,903 468,913 463,907 460,893 462,883" fill="#6baed6"/><polygon points="594,1053 597,1052 598,1055 595,1056" fill="#3182bd"/><polygon points="123,827 140,818 153,817 167,823 187,827 207,833 227,840 247,843 263,847 277,853 287,863 300,870 307,867 320,873 330,880 340,882 352,880 353,893 333,907 313,913 300,923 287,940 277,957 280,970 273,977 263,987 257,997 243,1003 233,1010 217,1013 200,1010 183,1008 167,1013 157,1020 147,1013 143,1000 137,990 127,983 123,982 123,973 130,963 137,960 133,950 140,940 137,927 137,920 143,920 148,910 153,897 153,887 163,880 170,877 165,870 163,863 153,862 143,860 137,860 135,853 127,853 123,855 122,847 127,837" fill="#c6dbef"/><polygon points="123,855 127,853 135,853 137,860 143,860 153,862 163,863 165,870 170,877 163,880 153,887 153,897 148,910 143,920 137,920 137,927 140,940 133,950 137,960 130,963 123,973 123,982 113,983 103,980 93,977 97,967 98,957 100,943 97,937 93,930 100,917 110,900 117,883 120,867" fill="#6baed6"/><polygon points="333,953 343,948 352,953 347,960 337,957" fill="#c6dbef"/><polygon points="362,946 366,945 366,948 362,949" fill="#c6dbef"/><polygon points="309,965 312,964 312,968 309,968" fill="#c6dbef"/><polygon points="960,1010 973,1003 987,997 997,987 1002,980 993,1000 987,1007 973,1012 963,1015" fill="#9ecae1"/>
<g fill="none" stroke="#1a1a1a" stroke-width="1" stroke-linejoin="round"><polyline points="585.5,187.8 581.8,188.8 582.7,197 581.8,204.3 565.3,202.5 563.5,208 561.7,215.3 556.2,217.2 550.7,222.7 547.9,233.7 549.7,241 543.3,255.7 540.6,264.8 534.2,270.3 535,280 533,287 528,300 528,310 532,317 522,322 513,330 510,347 509.9,360 513.1,368.6 512,384.7 517.4,389 520.6,394.4 519.6,401.9 515.3,404 518.5,412.6 519.6,419.1 517.4,428.7 509.9,434.1 508.8,439.5 507.7,451.3 506.7,456.7"/><polyline points="585.5,187.8 591,191.5 598.3,197 611,201.6 616.7,206.2 619.4,211.7 620.3,220.8 624,226.3 624,230 629.5,239.2 629.5,248.3 633.2,255.7 637,263"/><polyline points="585.5,187.8 587.3,185 590,179.6 598,184 604,191.5 611,192.4 616.7,187.8 627.7,190.6 629.5,184.2 633.2,180.5 630.4,162.2 633.2,154.8 638.7,153 644.2,147.5 649.7,150.2 658.8,154.8 661.6,160.3 661,170"/><polyline points="661,170 663,166 667,158 669,154 675,153 672,147"/><polyline points="661,170 663,183 667,191 675,195 683,203 683,211 680,222 685,230 693,241 700,250 697,254 700,259 702,265 703,273 710,280 717,290 717,300 727,307 738,315 738,327 733,343 727,363 720,375 713,385"/><polyline points="722,413 725,417 723,423 719,433 723,440 727,448 729,455 727,460 727,465"/><polyline points="683,465 693,460 700,459 707,462 713,467 720,465 727,465"/><polyline points="727,465 735,467 736,480 742,483 747,493"/><polyline points="747,493 743,502 742,508 732,508 728,513"/><polyline points="648,517 658,508 673,508 677,507 690,507 700,502 703,505 717,508 728,513"/><polyline points="728,513 728,523 732,525 727,530 723,537 720,542 722,552 718,555 717,560 710,561.8 701.7,563.7 692.5,567.3"/><polyline points="652,538 658,540 667,543 673,543 677,548 677,555 680,558"/><polyline points="680,558 687,560 692.5,567.3"/><polyline points="680,558 674.2,560 655.8,561.8 637.5,563.7"/><polyline points="692.5,567.3 694.3,572.8 698,580.2 700,584.7 702.3,589.3 704.7,597.5 701.2,602.2 697,607 696,611 700,613.8 703.5,617.3 704.7,623.2 704.1,626.7 705.8,630.2 709.3,637.2 714,644.2 716.3,646 714.6,648.3 717.5,651.2 717.5,657 712.8,659.3 709.3,665.2 705.8,671 701.2,680 699.8,684.7 701.7,692 703.5,696.6"/><polyline points="703.5,696.6 698,695.7 690.7,692 683.3,690.2 675.6,690.8 671.8,693.3 669.4,694.6 664.4,693.3 659.4,695.8 657,699.5 653.2,700.1 652,697 648.3,693.3 645.8,690.8 643.3,693.3 640.8,695.8 637.1,694.6 633.4,693.3"/><polyline points="633.4,693.3 632.2,690.8 629.7,685.9 627.2,684 622.2,682.2 619.8,681.5 614.8,677.2 613.6,676 608.6,676.6 602.4,673.5 600,674.7 601.2,677.2 596.2,682.2 593.7,679.7 590,671 588,670 580.7,668.2 575.2,666.3 569.7,662.7 564.2,664.5"/><polyline points="551.3,589.3 553.2,596.7 555,604 551.3,613.2 558.7,622.3 558.7,629.7 560.5,637 560.5,642.5 564.2,648 566,655.3 567.8,660.8 564.2,664.5"/><polyline points="564.2,664.5 558.7,662.7 555,666.3 547.7,670 536.7,673.7 529.3,677.3 523.8,681 522,684.7 527.5,692 529.3,699.3 534.8,706.7 540.3,712.2 547.7,719.5 550,721.7"/><polyline points="550,721.7 560,725 565,723.3 571.7,715 580,716.7 588.3,718.3 597.4,718 606.1,719.4"/><polyline points="633.4,693.3 627.2,697 623.5,704.5 619.8,710.7 613.6,713.2 608.6,714.4 606.1,719.4"/><polyline points="703.5,696.6 697.9,698.3 696.6,705.7 695.4,710.7 695.4,715.6"/><polyline points="609.8,736.7 614.8,739.2 621,742.3 627.2,740.4 634.6,739.2 639.6,738.6 638.4,734.2 643.3,731.8 649.5,729.3 652,726.8 658.2,726.8 661.9,725.6 666.9,719.4 670.6,714.4 676.8,715 681.8,713.2 686.7,715.6 690.4,717.5 695.4,715.6"/><polyline points="695.4,715.6 700.4,719.4 706.6,721.8 710.3,723.1"/><polyline points="710.3,723.1 714.5,719.8 720.5,722 728,721 737,719 746,723.5 750.5,717.5 758,714.5 765.5,711.5 767,707 773,703"/><polyline points="773,703 777.5,705.5 785,714.5 792.5,722 803,729.5 807.5,735.5 809,743 810.5,752 813.5,764 816.5,768.5"/><polyline points="816.5,768.5 821,771.5 825.5,772 830,768.5 834.5,765.5 839,764 842.8,766"/><polyline points="773,703 774.5,699.5 786.5,694 804.5,699 815,700 819.5,707 821,711.5 827,714.5 830,722 837.5,725 839,731 841,736 836,737 831.5,736 824,738 824.8,744.5 825.5,750.5 822.5,756.5 819.5,761 820,765.5 816.5,768.5"/><polyline points="710.3,723.1 705.3,728 699.1,734.2 696.6,741.7 694.2,749.1 691.7,757.8 689.2,764 688,767.7 684.2,771.4 679.3,773.9 674.3,775.2 669.4,777.6"/><polyline points="669.4,777.6 662.5,779.5 658.5,779 654.5,784 650,785 646,787.5"/><polyline points="646,787.5 642,788.5 639.5,792.3 629,792.3 625,791.5 623,790 618,788 615,785 612.3,782.6 606.1,778.9 599.9,775.2"/><polyline points="606.1,719.4 603.6,726.8 606.1,731.8 609.8,736.7"/><polyline points="609.8,736.7 609.8,740.4 606.1,744.2 599.9,746.6 602.4,749.1 601.2,755.3 599.9,761.5 599.9,765.3 596.2,767.7"/><polyline points="596.2,767.7 598.7,771.4 599.9,775.2"/><polyline points="596.2,767.7 595,768.3 590,771.7 580,775 571.7,778.3 560,780 551.7,780"/><polyline points="550,721.7 551.7,725 546.7,726.7 545,731.7 538.3,736.7 533.3,740 536.7,748.3 538.3,753.3 536.7,750 531.7,750 521.7,751.7 511.7,755 505,757.5 501.7,754.2 491.7,755 488.3,760 485,755 478.3,755"/><polyline points="478.3,755 478.3,760 476.7,763.3 478.3,766.7 485,770 491.7,770 493.3,775 493.3,780"/><polyline points="493.3,775 500,773.3 503.3,770 511.7,768.3 520,768.3 525,766.7 526.7,773.3 533.3,776.7 546.7,778.3 551.7,780"/><polyline points="551.7,780 548.3,786.7 551.7,793.3 551.7,800 555,806.7"/><polyline points="599.9,775.2 603.3,776.7 600,778.3 595,783.3 588.3,786.7 586.7,793.3 581.7,800 580,805 571.7,805 563.3,806.7 555,806.7"/><polyline points="443.3,753.3 450,753.3 458.3,751.7 460,748.3 462.5,750 468.3,751.7 475,755 478.3,755"/><polyline points="493.3,780 488.3,780 486.7,783.3 486.7,787.5 481.7,785 475,785 470,790 468.3,795 465.8,799.2 464.2,795 460,790.8 453.3,793.3 445,795.8 436.7,795 430,796.7 428.3,793.3"/><polyline points="428.3,793.3 427.5,788 423,786.5 418,789 413,789.5 416,784 420,779 423.3,773.3 428.3,766.7 431.7,761.7 431.7,756.7 435,755 443.3,753.3"/><polyline points="428.3,793.3 430,796.7 431.7,803.3 430,810 425,816.7 430,823.3 428.3,830 430,840 438,852"/><polyline points="424.1,702.8 427.3,705 430.6,710.3 435.9,711.4 441.3,712.5 446.7,714.6 454.2,717.8 448.3,725 445,731.7 442.5,741.7 443.3,753.3"/><polyline points="415.5,700.6 423,702.8 424.1,702.8"/><polyline points="419.8,685.6 420.9,687.7 424.1,692 425.2,697.4 424.1,701.7 424.1,702.8"/><polyline points="419.8,685.6 416.6,688.8 414.4,693.1 416.6,696.3 415.5,699.6 415.5,700.6"/><polyline points="364,656.6 362.9,660.9 366.1,665.2 372.6,666.3 375.8,671.6 381.1,674.9 386.5,683.4 388.7,687.7 395.1,686.7 399.4,684.5 398.3,688.8 400.5,693.1 404.8,697.4 409.1,700.6 412.3,700.1 415.5,700.6"/><polyline points="415.5,669.5 419.8,669.5 423,673.8 425.2,679.2 423,683.4 419.8,685.6"/><polyline points="376.9,651.2 382.2,652.3 385.4,654.4 389.7,652.3 393,651.2 397.3,649.1 400.5,648.5 403.7,650.2 405.9,653.4 408,655 412.3,656.6 415.5,658.7 415.5,663 414.4,666.3 415.5,669.5"/><polyline points="441.3,606.1 441.8,611.5 440.2,615.8 438.1,620.1 433.8,622.2 434.9,625.4 438.1,628.7 437,631.9 433.8,634 432.7,638.3 429.5,640.5 425.2,639.4 422,641.6 420.9,645.9 423,650.2 423,654.4 420.9,658.7 418.7,662 420.9,665.2 418.7,668.4 415.5,669.5"/><polyline points="465.5,562.3 470,564 474.8,564"/><polyline points="263,847 277,853 287,863 300,870 307,867 320,873 330,880 340,882 352,880"/><polyline points="123,855 127,853 135,853 137,860 143,860 153,862 163,863 165,870 170,877 163,880 153,887 153,897 148,910 143,920 137,920 137,927 140,940 133,950 137,960 130,963 123,973 123,982"/><polyline points="233.3,524 227.8,530.5 221.3,535.9 214.8,538.1 212.7,540.3 214.8,545.7 219.2,550 223.5,551.1 227.8,545.7 230,550 234.3,555.4 237.6,558.7"/><polyline points="646,787.5 647,791 649,796 651,798 650.5,801 655,803 658.5,804.5 654.5,806.5 654,811 654.5,812"/><polyline points="654.5,812 651,814 648.5,814.5 646,810 642,809 635,810 631.5,810.5 625,810.5 618,810 612,811 603,813 602,816 596,811 592,812 591.5,820 598,825 602,836 610,843 623,854 625,859 632,865 633,868 640,867 646.7,870"/><polyline points="669.4,777.6 676.8,783.8 681.8,788.8 685,796.7 695,800 696.7,806.7 698.3,810 710,813.3 715,810 720,813.3 718.3,818.3 721.7,821.7 726.7,825 730,829.2"/><polyline points="730,829.2 740,828.3 756.7,827.5 770,826 776.7,825 785,818.3 793.3,812.5 803.3,807.5 815,809.2 821.7,810.8 831.7,810 833,810"/><polyline points="730,829.2 720,825 718.3,830 721.7,836.7 730,843.3 731.7,846.7 728.3,853.3 725,856.7 723.3,860 725,866.7 723.3,870.8"/><polyline points="723.3,870.8 730,875 735,878.3 738.3,885 738.3,894.2"/><polyline points="738.3,894.2 748.3,891.7 760,887.5 766.7,884.2 773.3,885.8 780,886.7 786.7,885 795,883.3 798.3,880 800,874 802.5,870.4"/><polyline points="802.5,870.4 806.7,865 812.5,862.5 816.7,858.3 824.2,861.7 831.7,858.3"/><polyline points="802.5,870.4 806,872.5 808.3,875 809.2,878.3 807,881 805.8,883.3 805.8,889.2 806.7,891.7 804,895 802.5,898.3"/><polyline points="738.3,894.2 735,898.3 726.7,901.7 718.3,905 711.7,908.3 703.3,911.7"/><polyline points="703.3,911.7 703.3,920 700,926.7 695,935 691.7,941.7 690,945"/></g>
<g fill="none" stroke="#1a1a1a" stroke-width="1" stroke-linejoin="round"><polyline points="654.5,812 658.5,813.5 659,817.5 656,822.5 656.7,826 661.7,831.7 665,843.3 661.7,848.3"/><polyline points="661.7,848.3 656.7,850 653.3,856.7 651.7,863.3 646.7,870"/><polyline points="661.7,848.3 668.3,853.3 676.7,858.3 683.3,863.3"/><polyline points="683.3,863.3 680,868.3 678.3,871.7 673.3,875 668.3,878.3 666.7,881.7"/><polyline points="723.3,870.8 710,875 703.3,876.7 700,880 693.3,885"/><polyline points="680,868.3 685,873.3 691.7,878.3 693.3,885 691.7,890 693.3,896.7 696.7,905 703.3,911.7"/><polyline points="747,493 760,496.7 766.7,501.7 776.7,496.7 786,500 789.5,500.5 790,508 795,513 794.5,520 799,523 806,532 814,534.5 816.5,541 822,539 827,541 829,544.5 833.5,547 827,557 824,558 816,557.5 814.5,563 820,567 821,571 825,579 829,583"/><polyline points="829,583 835,583 837.5,575.5 844,574.5 849,570 857,567.5 865,574 872,580 869,583 872,585 874,592 887,589.5 891,591 897,599 900,605 907,602 917,603 928,595 937,600 945,603 947,598 962,598 967,600 980,598 982,607 983,617 987,627 992,633 992,642 980,647 973,653 972,663 973,670"/><polyline points="704.1,626.7 707,626.1 710.5,627.3 715.2,623.8 716.3,619.7 728,614.4 740.8,612.1 749,613.3 759.5,612.1 763.6,615.6 768.8,614.4 770,616.8 771.2,613.8 775.8,613.3 777.6,610.3 781.7,612.1 786.3,613.3 791.6,607.4 797.4,613.3 801.5,608.6 809.7,606.3 817.3,610.3 813.8,601.6 816.7,589.3 819,587.6 823.7,585.3 829,583"/><polyline points="1103,470 1107,463 1113,462 1125,452 1133,453 1147,447 1160,450 1170,447 1173,455 1167,445 1177,443 1190,442 1192,423"/><polyline points="1103,470 1105,477 1097,490 1093,507 1103,520 1100,527 1087,523 1080,527 1078,540 1087,553 1090,573 1100,577 1107,587 1123,580 1133,587 1143,597 1143,602 1160,602"/><polyline points="1040,745 1042,740 1060,739 1080,734 1089,733 1101,734 1113,738 1122,728 1131,725 1140,724 1147,723 1149,730 1164,731 1179,733 1193,737"/><polyline points="1085,783 1095,779 1103,773 1113,774 1122,777 1131,774 1140,768 1147,761 1152,755 1164,751 1176,748 1179,742 1167,736 1164,731"/><polyline points="1122,777 1131,783 1137,798 1146,795 1155,798 1158,807 1152,813 1158,822 1164,834 1170,846 1179,852 1187,861 1193,867"/><polyline points="1147,761 1161,765 1170,774 1176,783 1190,789"/><polyline points="1028,963 1033,962 1039,950 1036,937 1045,935 1054,932 1065,922 1077,922 1089,919 1098,914 1113,896 1125,892 1137,882 1143,883 1149,871 1164,868 1170,867 1174,862 1179,868 1185,861"/><polyline points="1143,883 1140,896 1131,905 1131,914 1137,926 1141,950 1140,962 1119,986 1104,1004 1089,1024 1080,1036 1068,1047 1060,1045 1045,1042"/><polyline points="1104,1004 1119,1027 1125,1030 1149,1026 1179,1029 1196,1030"/><polyline points="1039,995 1045,992 1054,998 1051,1010 1046,1021 1042,1030 1033,1038"/><polyline points="1042,1033 1046,1045 1045,1057"/><polyline points="1119,1030 1092,1057"/><polyline points="457,1030 450,1040 448,1057"/><polyline points="1000,1057 1000,1057"/></g><polyline points="683.3,863.3 688.3,853.3 691.7,851.7 696.7,855 705,861.7 710,863.3 708.3,870 703.3,876.7" fill="none" stroke="#555" stroke-width="0.7"/>
<rect x="0" y="120" width="1195" height="27" fill="#fff" fill-opacity="0.12"/>
<rect x="1165" y="120" width="30" height="937" fill="url(#fr)"/><rect x="1195" y="120" width="5" height="937" fill="#fff"/>
</g>
<g font-family="Liberation Sans, sans-serif" font-size="15" fill="#6284c6" stroke="#6284c6" stroke-width="0.25" letter-spacing="3.6"><text x="278.1" y="330.8">NORWEGIAN SEA</text><text x="332.8" y="517.9">NORTH SEA</text><text x="46.3" y="789.8">ATLANTIC OCEAN</text><text x="892.9" y="799.6">BLACK SEA</text><text x="295" y="1010.4">MEDITERRANEAN SEA</text><text transform="translate(617.2,513.8) rotate(-49.1)" x="1.8" y="0" text-anchor="middle">BALTIC SEA</text></g>
<g font-family="Liberation Sans, sans-serif" font-weight="bold" font-size="19.7" fill="#4a4a4a" stroke="#fff" stroke-width="4" stroke-linejoin="round" paint-order="stroke" text-anchor="middle"><text transform="translate(185.4,253.8) scale(0.92,1)">IS</text><text transform="translate(480.4,414.8) scale(0.92,1)">NO</text><text transform="translate(557.4,449.8) scale(0.92,1)">SE</text><text transform="translate(679.4,349.8) scale(0.92,1)">FI</text><text transform="translate(695.4,451.8) scale(0.92,1)">EE</text><text transform="translate(712.4,496.8) scale(0.92,1)">LV</text><text transform="translate(688.4,535.8) scale(0.92,1)">LT</text><text transform="translate(484.4,538.8) scale(0.92,1)">DK</text><text transform="translate(207.4,591.8) scale(0.92,1)">IE</text><text transform="translate(306.4,625.8) scale(0.92,1)">UK</text><text transform="translate(414.4,634.8) scale(0.92,1)">NL</text><text transform="translate(491.4,661.8) scale(0.92,1)">DE</text><text transform="translate(636.4,636.8) scale(0.92,1)">PL</text><text transform="translate(393.4,681.8) scale(0.92,1)">BE</text><text transform="translate(438.4,696.8) scale(0.92,1)">LU</text><text transform="translate(575.4,710.8) scale(0.92,1)">CZ</text><text transform="translate(654.4,722.8) scale(0.92,1)">SK</text><text transform="translate(356.4,762.8) scale(0.92,1)">FR</text><text transform="translate(457.4,785.8) scale(0.92,1)">CH</text><text transform="translate(567.4,770.8) scale(0.92,1)">AT</text><text transform="translate(648.4,770.8) scale(0.92,1)">HU</text><text transform="translate(750.4,777.8) scale(0.92,1)">RO</text><text transform="translate(564.4,805.8) scale(0.92,1)">SI</text><text transform="translate(616.4,810.8) scale(0.92,1)">HR</text><text transform="translate(691.4,847.8) scale(0.92,1)">RS</text><text transform="translate(777.4,870.8) scale(0.92,1)">BG</text><text transform="translate(661.4,874.8) scale(0.92,1)">ME</text><text transform="translate(520.4,875.8) scale(0.92,1)">IT</text><text transform="translate(715.4,898.8) scale(0.92,1)">MK</text><text transform="translate(667.4,903.8) scale(0.92,1)">AL</text><text transform="translate(998.4,894.8) scale(0.92,1)">TR</text><text transform="translate(730.4,976.8) scale(0.92,1)">EL</text><text transform="translate(127.4,919.8) scale(0.92,1)">PT</text><text transform="translate(213.4,941.8) scale(0.92,1)">ES</text><text transform="translate(979.4,1039.8) scale(0.92,1)">CY</text><text transform="translate(601.4,1054.8) scale(0.92,1)">MT</text></g>
<g font-family="Liberation Sans, sans-serif" font-size="21.2" fill="#4a4a4a"><rect x="16" y="285.0" width="38" height="22" fill="#08519c"/><text x="63.2" y="302.6">≥ 1 750</text><rect x="16" y="309.1" width="38" height="22" fill="#3182bd"/><text x="64.2" y="326.7">1 600 – &lt; 1 750</text><rect x="16" y="333.2" width="38" height="22" fill="#6baed6"/><text x="64.2" y="350.8">1 500 – &lt; 1 600</text><rect x="16" y="357.3" width="38" height="22" fill="#9ecae1"/><text x="64.2" y="374.9">1 400 – &lt; 1 500</text><rect x="16" y="381.4" width="38" height="22" fill="#c6dbef"/><text x="64.2" y="399.0">1 300 – &lt; 1 400</text><rect x="16" y="405.5" width="38" height="22" fill="#eff3ff"/><text x="64.2" y="423.1">&lt; 1 300</text><rect x="16" y="441.5" width="38" height="22" fill="#a9a9a9"/><text x="60.8" y="459.5" font-size="21.3">Data not available</text></g>
<text x="7" y="61" font-family="Liberation Sans, sans-serif" font-weight="bold" font-size="44.3" letter-spacing="0.39" fill="#4a4a4a">Diesel, EUR per 1000 litre</text>
<text x="7" y="103" font-family="Liberation Sans, sans-serif" font-size="29.8" letter-spacing="0.25" fill="#4a4a4a">27/10/2025</text>
<text x="14" y="1090.2" font-family="Liberation Sans, sans-serif" font-weight="bold" font-size="30.5" fill="#7b7e87" letter-spacing="0.1">eurostat</text>
<rect x="141" y="1070" width="30" height="20" fill="#0e3f9b"/><circle cx="156.30" cy="1073.50" r="1.0" fill="#ffdd00"/><circle cx="159.55" cy="1074.37" r="1.0" fill="#ffdd00"/><circle cx="161.93" cy="1076.75" r="1.0" fill="#ffdd00"/><circle cx="162.80" cy="1080.00" r="1.0" fill="#ffdd00"/><circle cx="161.93" cy="1083.25" r="1.0" fill="#ffdd00"/><circle cx="159.55" cy="1085.63" r="1.0" fill="#ffdd00"/><circle cx="156.30" cy="1086.50" r="1.0" fill="#ffdd00"/><circle cx="153.05" cy="1085.63" r="1.0" fill="#ffdd00"/><circle cx="150.67" cy="1083.25" r="1.0" fill="#ffdd00"/><circle cx="149.80" cy="1080.00" r="1.0" fill="#ffdd00"/><circle cx="150.67" cy="1076.75" r="1.0" fill="#ffdd00"/><circle cx="153.05" cy="1074.37" r="1.0" fill="#ffdd00"/>
<g font-family="Liberation Sans, sans-serif" font-size="16.5" fill="#555" text-anchor="end">
<text x="1180.5" y="1110">Administrative boundaries: © EuroGeographics © OpenStreetMap</text>
<text x="1180.5" y="1131">Cartography: Eurostat – IMAGE, 10/2025</text>
</g>
</svg>
</body></html>
